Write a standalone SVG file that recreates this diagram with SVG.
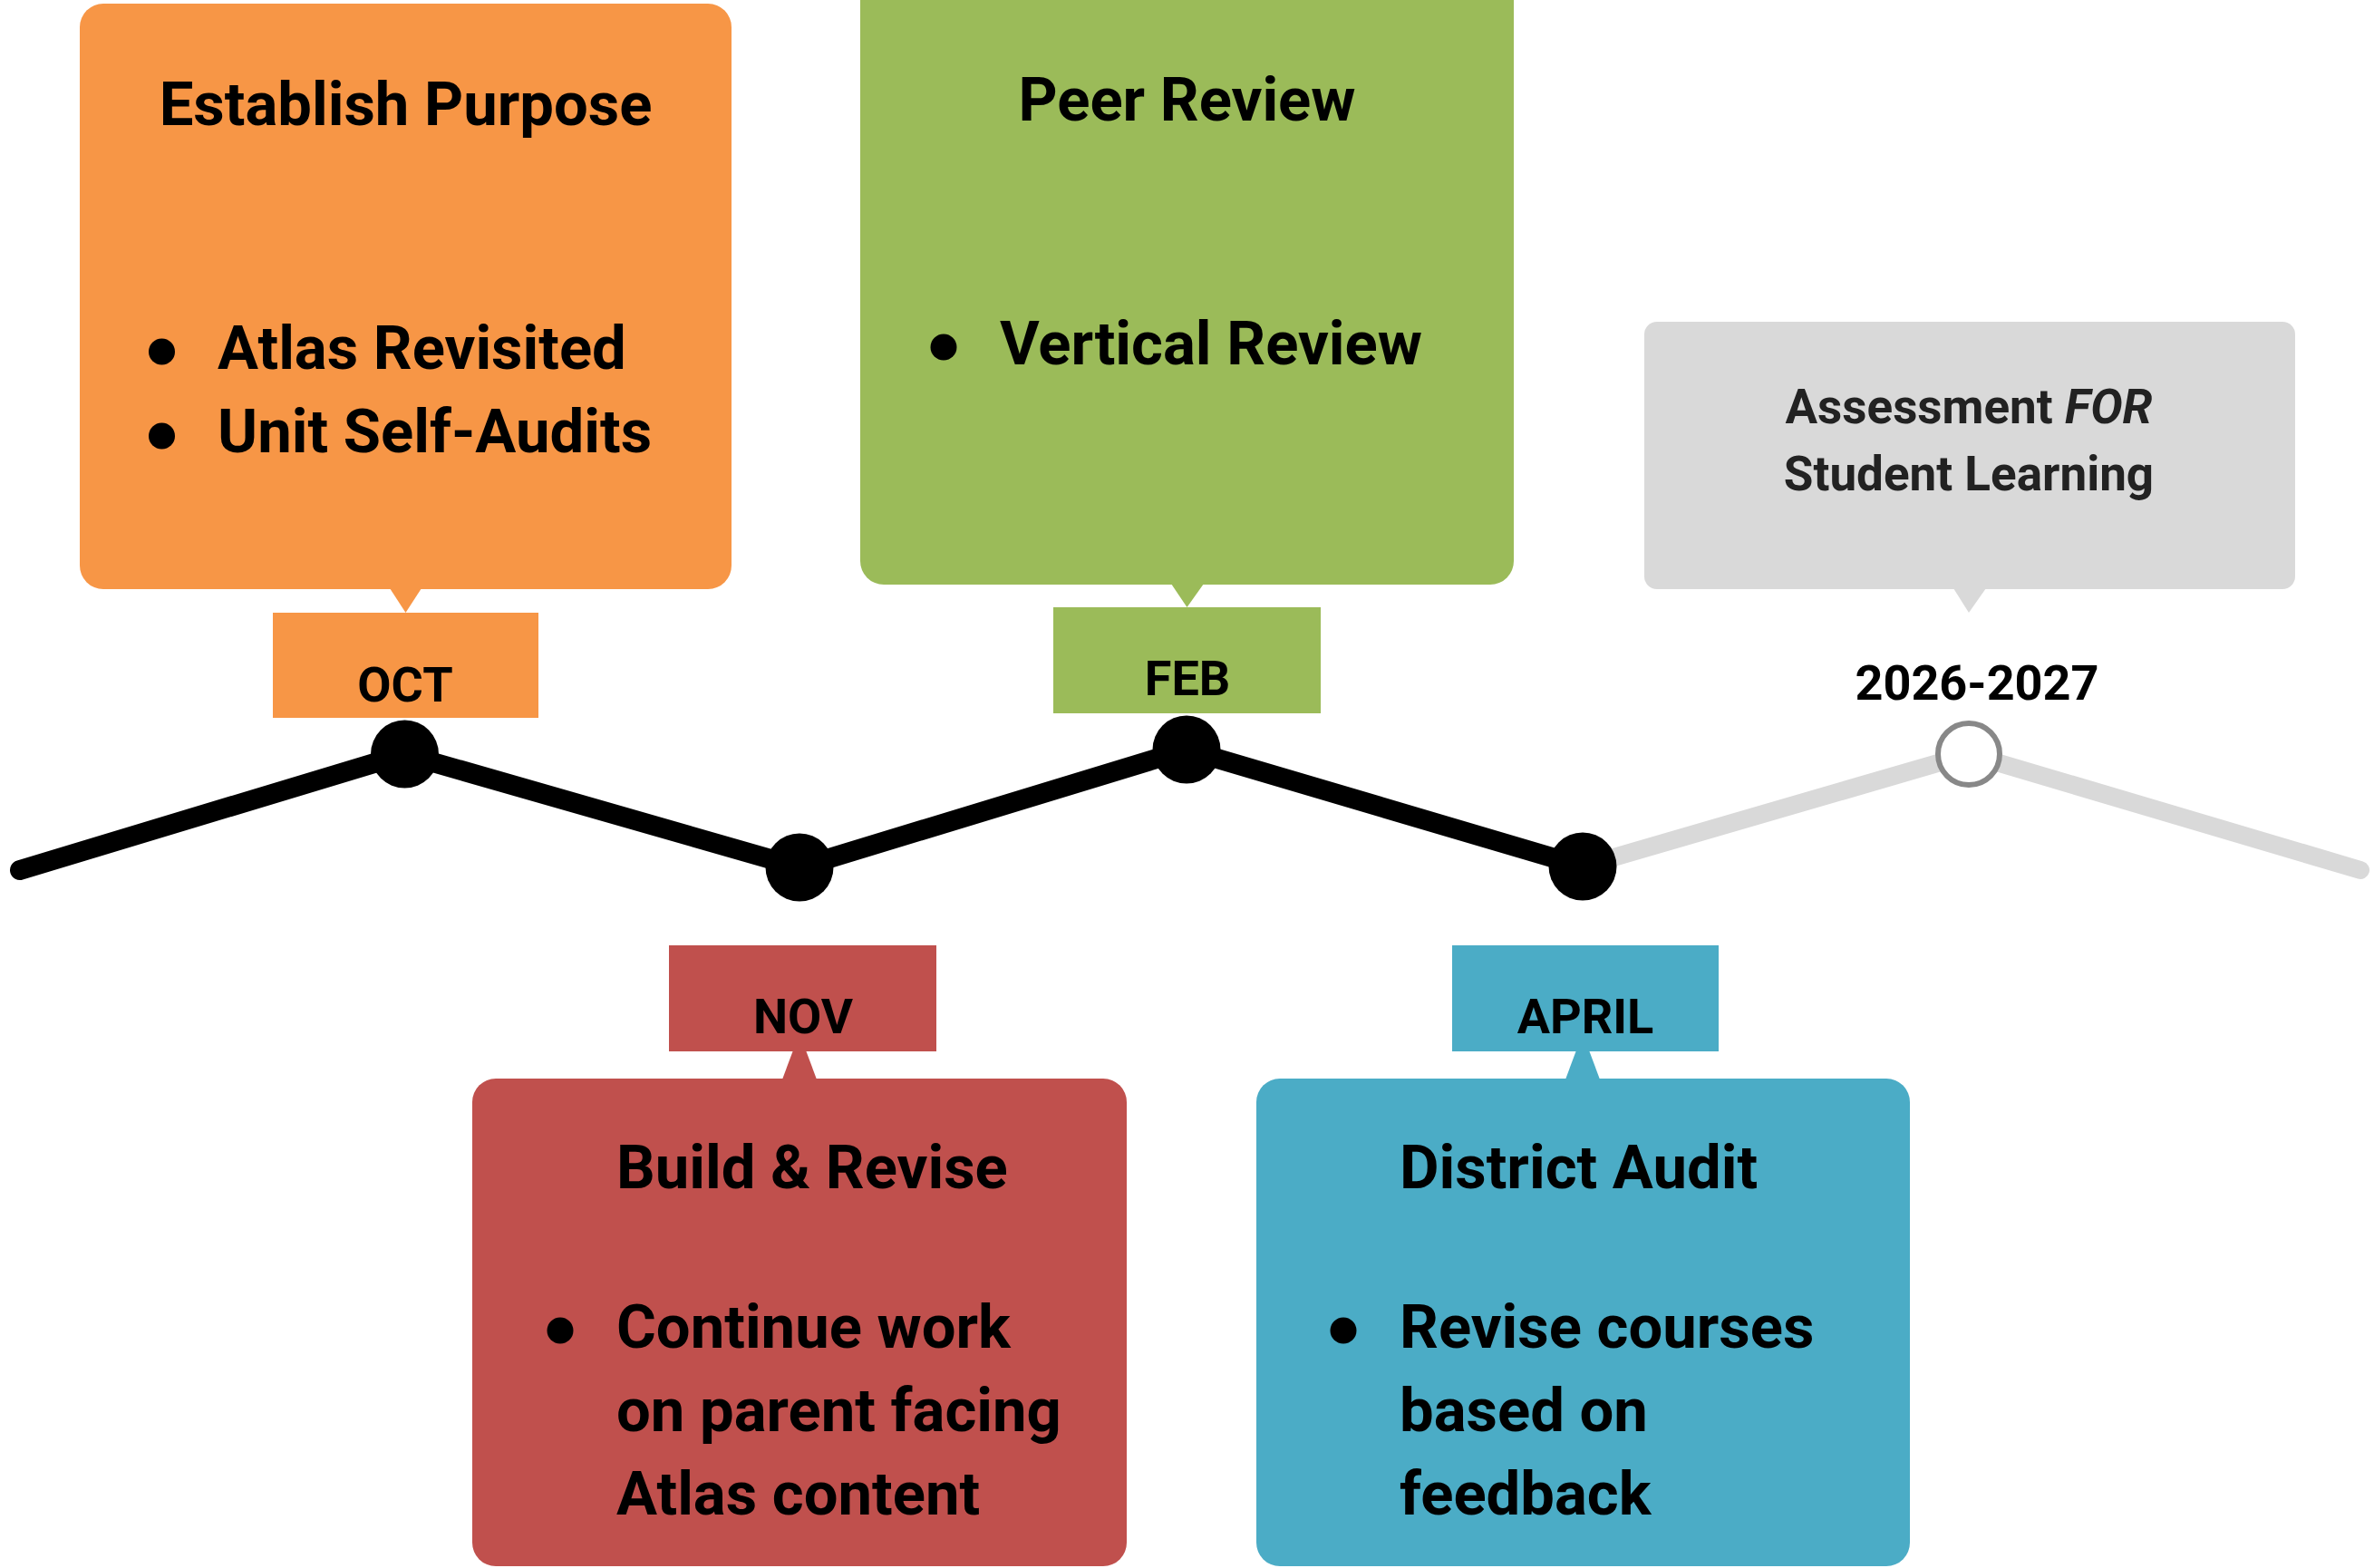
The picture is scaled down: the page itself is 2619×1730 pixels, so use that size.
<svg xmlns="http://www.w3.org/2000/svg" width="2619" height="1730" viewBox="0 0 2619 1730">
<style>
text{font-family:Roboto,"Liberation Sans",sans-serif;font-weight:700;fill:#000}
.big{font-size:67px}
.lab{font-size:54px}
.gry{font-size:53px;fill:#222}
.mid{text-anchor:middle}
.or{fill:#F79646}.gr{fill:#9BBB59}.rd{fill:#C0504D}.bl{fill:#4BACC6}.gy{fill:#D9D9D9}
.node{fill:#000}
</style>
<rect width="2619" height="1730" fill="#fff"/>
<g id="connectors">
<polyline points="1746,956 2172,832 2604,960" fill="none" stroke="#D9D9D9" stroke-width="20" stroke-linecap="round" stroke-linejoin="round"/>
<polyline points="22,960 446,832 882,957 1309,827 1746,956" fill="none" stroke="#000" stroke-width="22" stroke-linecap="round" stroke-linejoin="round"/>
</g>
<g id="oct">
<rect class="or" x="88" y="4" width="719" height="646" rx="26"/>
<polygon class="or" points="430,649 465,649 447.5,676"/>
<text class="big mid" x="447.5" y="138">Establish Purpose</text>
<circle cx="178.5" cy="388" r="14.5"/>
<text class="big" x="240" y="407">Atlas Revisited</text>
<circle cx="178.5" cy="481" r="14.5"/>
<text class="big" x="240" y="499">Unit Self-Audits</text>
<rect class="or" x="301" y="676" width="293" height="116"/>
<text class="lab mid" x="447" y="774">OCT</text>
<circle class="node" cx="446.5" cy="832" r="37.5"/>
</g>
<g id="nov">
<rect class="rd" x="521" y="1190" width="722" height="538" rx="26"/>
<polygon class="rd" points="863,1191 901,1191 882,1140"/>
<rect class="rd" x="738" y="1043" width="295" height="117"/>
<text class="lab mid" x="886" y="1140">NOV</text>
<text class="big" x="680" y="1311">Build &amp; Revise</text>
<circle cx="618" cy="1468" r="14.5"/>
<text class="big" x="680" y="1487">Continue work</text>
<text class="big" x="680" y="1579">on parent facing</text>
<text class="big" x="680" y="1671">Atlas content</text>
<circle class="node" cx="882" cy="957" r="37.5"/>
</g>
<g id="feb">
<rect class="gr" x="949" y="-26" width="721" height="671" rx="26"/>
<polygon class="gr" points="1292,644 1328,644 1309.5,670"/>
<text class="big mid" x="1309.5" y="133">Peer Review</text>
<circle cx="1041" cy="383" r="14.5"/>
<text class="big" x="1103" y="402">Vertical Review</text>
<rect class="gr" x="1162" y="670" width="295" height="117"/>
<text class="lab mid" x="1310" y="767">FEB</text>
<circle class="node" cx="1309" cy="827" r="37.5"/>
</g>
<g id="april">
<rect class="bl" x="1386" y="1190" width="721" height="538" rx="26"/>
<polygon class="bl" points="1727,1191 1765,1191 1746,1140"/>
<rect class="bl" x="1602" y="1043" width="294" height="117"/>
<text class="lab mid" x="1749" y="1140">APRIL</text>
<text class="big" x="1544" y="1311">District Audit</text>
<circle cx="1482" cy="1468" r="14.5"/>
<text class="big" x="1544" y="1487">Revise courses</text>
<text class="big" x="1544" y="1579">based on</text>
<text class="big" x="1544" y="1671">feedback</text>
<circle class="node" cx="1746" cy="956" r="37.5"/>
</g>
<g id="future">
<rect class="gy" x="1814" y="355" width="718" height="295" rx="14"/>
<polygon class="gy" points="2155,649 2191,649 2172,676"/>
<text class="gry mid" x="2172" y="467">Assessment <tspan font-style="italic">FOR</tspan></text>
<text class="gry mid" x="2172" y="541">Student Learning</text>
<text class="lab mid" x="2181" y="772">2026-2027</text>
<circle cx="2172" cy="832" r="34" fill="#fff" stroke="#888" stroke-width="6"/>
</g>
</svg>
